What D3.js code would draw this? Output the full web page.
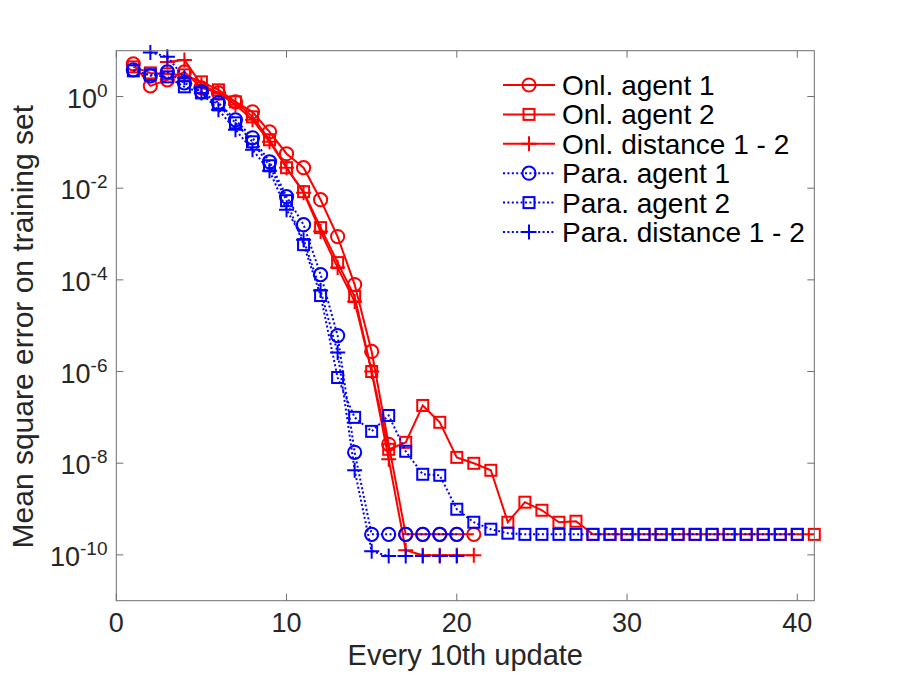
<!DOCTYPE html>
<html>
<head>
<meta charset="utf-8">
<script src="https://cdn.jsdelivr.net/npm/d3@7"></script>
<style>
  body { margin: 0; background: #fff; }
  svg text { font-family: "Liberation Sans", Arial, Helvetica, sans-serif; }
</style>
</head>
<body>
<div id="chart"></div>
<script>
// ---- data ----
// each series starts at update index `start`, one value per step
var onlAgent1 = [5.16, 1.71, 2.31, 3.45, 1.55, 1.20, 0.767, 0.464, 0.170, 0.0565,
  0.0280, 0.00561, 8.8e-4, 7.9e-5, 2.74e-6, 2.58e-8, 2.8e-10, 2.8e-10, 2.8e-10, 2.8e-10, 2.8e-10];
var onlAgent2 = [4.44, 3.28, 3.12, 2.97, 2.09, 1.40, 0.767, 0.361, 0.114, 0.0280,
  0.0084, 0.00138, 2.38e-4, 4.33e-5, 1.0e-6, 2.01e-8, 2.85e-8, 1.82e-7, 7.8e-8, 1.34e-8,
  9.95e-9, 7.0e-9, 5.15e-10, 1.41e-9, 9.4e-10, 5.15e-10, 5.42e-10, 2.8e-10, 2.8e-10, 2.8e-10,
  2.8e-10, 2.8e-10, 2.8e-10, 2.8e-10, 2.8e-10, 2.8e-10, 2.8e-10, 2.8e-10, 2.8e-10, 2.8e-10, 2.8e-10];
var onlDist = [5.7, 6.3, 1.80, 1.20, 0.659, 0.311, 0.103, 0.028, 0.008, 0.00113,
  1.85e-4, 3.37e-5, 1.0e-6, 1.22e-8, 1.26e-10, 9.8e-11, 9.8e-11, 9.8e-11, 9.8e-11];
var paraAgent1 = [3.82, 2.83, 3.45, 1.99, 1.27, 0.729, 0.311, 0.126, 0.0378, 0.00653,
  0.00160, 1.30e-4, 6.1e-6, 1.73e-8, 2.8e-10, 2.8e-10, 2.8e-10, 2.8e-10, 2.8e-10, 2.8e-10];
var paraAgent2 = [3.63, 2.97, 2.69, 1.63, 1.20, 0.659, 0.267, 0.103, 0.0309, 0.00534,
  5.87e-4, 4.55e-5, 7.4e-7, 1.0e-7, 4.95e-8, 1.10e-7, 1.82e-8, 5.73e-9, 5.45e-9, 9.9e-10,
  5.15e-10, 3.63e-10, 2.97e-10, 2.8e-10, 2.8e-10, 2.8e-10, 2.8e-10, 2.8e-10, 2.8e-10, 2.8e-10,
  2.8e-10, 2.8e-10, 2.8e-10, 2.8e-10, 2.8e-10, 2.8e-10, 2.8e-10, 2.8e-10, 2.8e-10, 2.8e-10];
var paraDist = [9.1, 7.4, 2.56, 1.20, 0.513, 0.188, 0.069, 0.0241, 0.0034, 7.55e-4,
  5.85e-5, 2.61e-6, 7.0e-9, 1.2e-10, 9.4e-11, 9.4e-11, 9.4e-11, 9.4e-11, 9.4e-11];

var seriesNames = ['Onl. agent 1', 'Onl. agent 2', 'Onl. distance 1 - 2',
  'Para. agent 1', 'Para. agent 2', 'Para. distance 1 - 2'];
var seriesStart = [1, 1, 3, 1, 1, 2];
var seriesValues = [onlAgent1, onlAgent2, onlDist, paraAgent1, paraAgent2, paraDist];

var xTicks = [0, 10, 20, 30, 40];
var yTicks = [1e0, 1e-2, 1e-4, 1e-6, 1e-8, 1e-10];
var yTickExp = ['0', '-2', '-4', '-6', '-8', '-10'];

// ---- layout ----
var W = 900, H = 676;
var L = 116.3, R = 814.3, T = 50.7, B = 600.7;
var RED = '#ff0000', BLUE = '#0000ff';
var styles = [
  { color: RED, dash: null, marker: 'circle' },
  { color: RED, dash: null, marker: 'square' },
  { color: RED, dash: null, marker: 'plus' },
  { color: BLUE, dash: '2,2.4', marker: 'circle' },
  { color: BLUE, dash: '2,2.4', marker: 'square' },
  { color: BLUE, dash: '2,2.4', marker: 'plus' }
];

var svg = d3.select('#chart').append('svg')
  .attr('width', W).attr('height', H);

var x = d3.scaleLinear().domain([0, 41]).range([L, R]);
var y = d3.scaleLog().domain([1e-11, 1e1]).range([B, T]);

// ---- series ----
function drawMarker(g, type, px, py, color) {
  if (type === 'circle') {
    g.append('circle').attr('cx', px).attr('cy', py).attr('r', 6.6)
      .attr('fill', 'none').attr('stroke', color).attr('stroke-width', 2);
  } else if (type === 'square') {
    g.append('rect').attr('x', px - 5.5).attr('y', py - 5.5)
      .attr('width', 11).attr('height', 11)
      .attr('fill', 'none').attr('stroke', color).attr('stroke-width', 2);
  } else {
    g.append('path')
      .attr('d', 'M' + (px - 7.5) + ',' + py + 'H' + (px + 7.5) +
                 'M' + px + ',' + (py - 7.5) + 'V' + (py + 7.5))
      .attr('fill', 'none').attr('stroke', color).attr('stroke-width', 2);
  }
}

var line = d3.line()
  .x(function(d) { return x(d[0]); })
  .y(function(d) { return y(d[1]); });

seriesValues.forEach(function(vals, si) {
  var st = styles[si];
  var pts = vals.map(function(v, i) { return [seriesStart[si] + i, v]; });
  var g = svg.append('g');
  g.append('path')
    .attr('d', line(pts))
    .attr('fill', 'none')
    .attr('stroke', st.color)
    .attr('stroke-width', 2)
    .attr('stroke-dasharray', st.dash);
  pts.forEach(function(p) { drawMarker(g, st.marker, x(p[0]), y(p[1]), st.color); });
});

// ---- axes (box, inward ticks) ----
var axisColor = '#6e6e6e', textColor = '#262626';
var ax = svg.append('g').attr('stroke', axisColor).attr('stroke-width', 1).attr('fill', 'none');
ax.append('rect').attr('x', L).attr('y', T).attr('width', R - L).attr('height', B - T);
xTicks.forEach(function(t) {
  ax.append('line').attr('x1', x(t)).attr('x2', x(t)).attr('y1', B).attr('y2', B - 7);
  ax.append('line').attr('x1', x(t)).attr('x2', x(t)).attr('y1', T).attr('y2', T + 7);
});
yTicks.forEach(function(t) {
  ax.append('line').attr('x1', L).attr('x2', L + 7).attr('y1', y(t)).attr('y2', y(t));
  ax.append('line').attr('x1', R).attr('x2', R - 7).attr('y1', y(t)).attr('y2', y(t));
});

svg.append('g').selectAll('text').data(xTicks).join('text')
  .attr('x', function(d) { return x(d); })
  .attr('y', 632)
  .attr('text-anchor', 'middle')
  .attr('font-size', 27)
  .attr('fill', textColor)
  .text(function(d) { return d; });

var yl = svg.append('g').selectAll('text').data(yTicks).join('text')
  .attr('x', 107.5)
  .attr('y', function(d) { return y(d) + 11; })
  .attr('text-anchor', 'end')
  .attr('font-size', 27)
  .attr('fill', textColor);
yl.append('tspan').text('10');
yl.append('tspan')
  .attr('dy', -11)
  .attr('font-size', 19)
  .text(function(d, i) { return yTickExp[i]; });

svg.append('text')
  .attr('x', (L + R) / 2).attr('y', 665)
  .attr('text-anchor', 'middle')
  .attr('font-size', 29)
  .attr('fill', textColor)
  .text('Every 10th update');

svg.append('text')
  .attr('transform', 'translate(33,' + ((T + B) / 2 + 1) + ') rotate(-90)')
  .attr('text-anchor', 'middle')
  .attr('font-size', 30)
  .attr('fill', textColor)
  .text('Mean square error on training set');

// ---- legend ----
var lg = svg.append('g');
seriesNames.forEach(function(name, i) {
  var st = styles[i];
  var cy = 85 + i * 29.4;
  lg.append('line')
    .attr('x1', 503).attr('x2', 555).attr('y1', cy).attr('y2', cy)
    .attr('stroke', st.color).attr('stroke-width', 2)
    .attr('stroke-dasharray', st.dash);
  drawMarker(lg, st.marker, 529, cy, st.color);
  lg.append('text')
    .attr('x', 562).attr('y', cy + 10)
    .attr('font-size', 28)
    .attr('fill', '#000')
    .text(name);
});
</script>
</body>
</html>
